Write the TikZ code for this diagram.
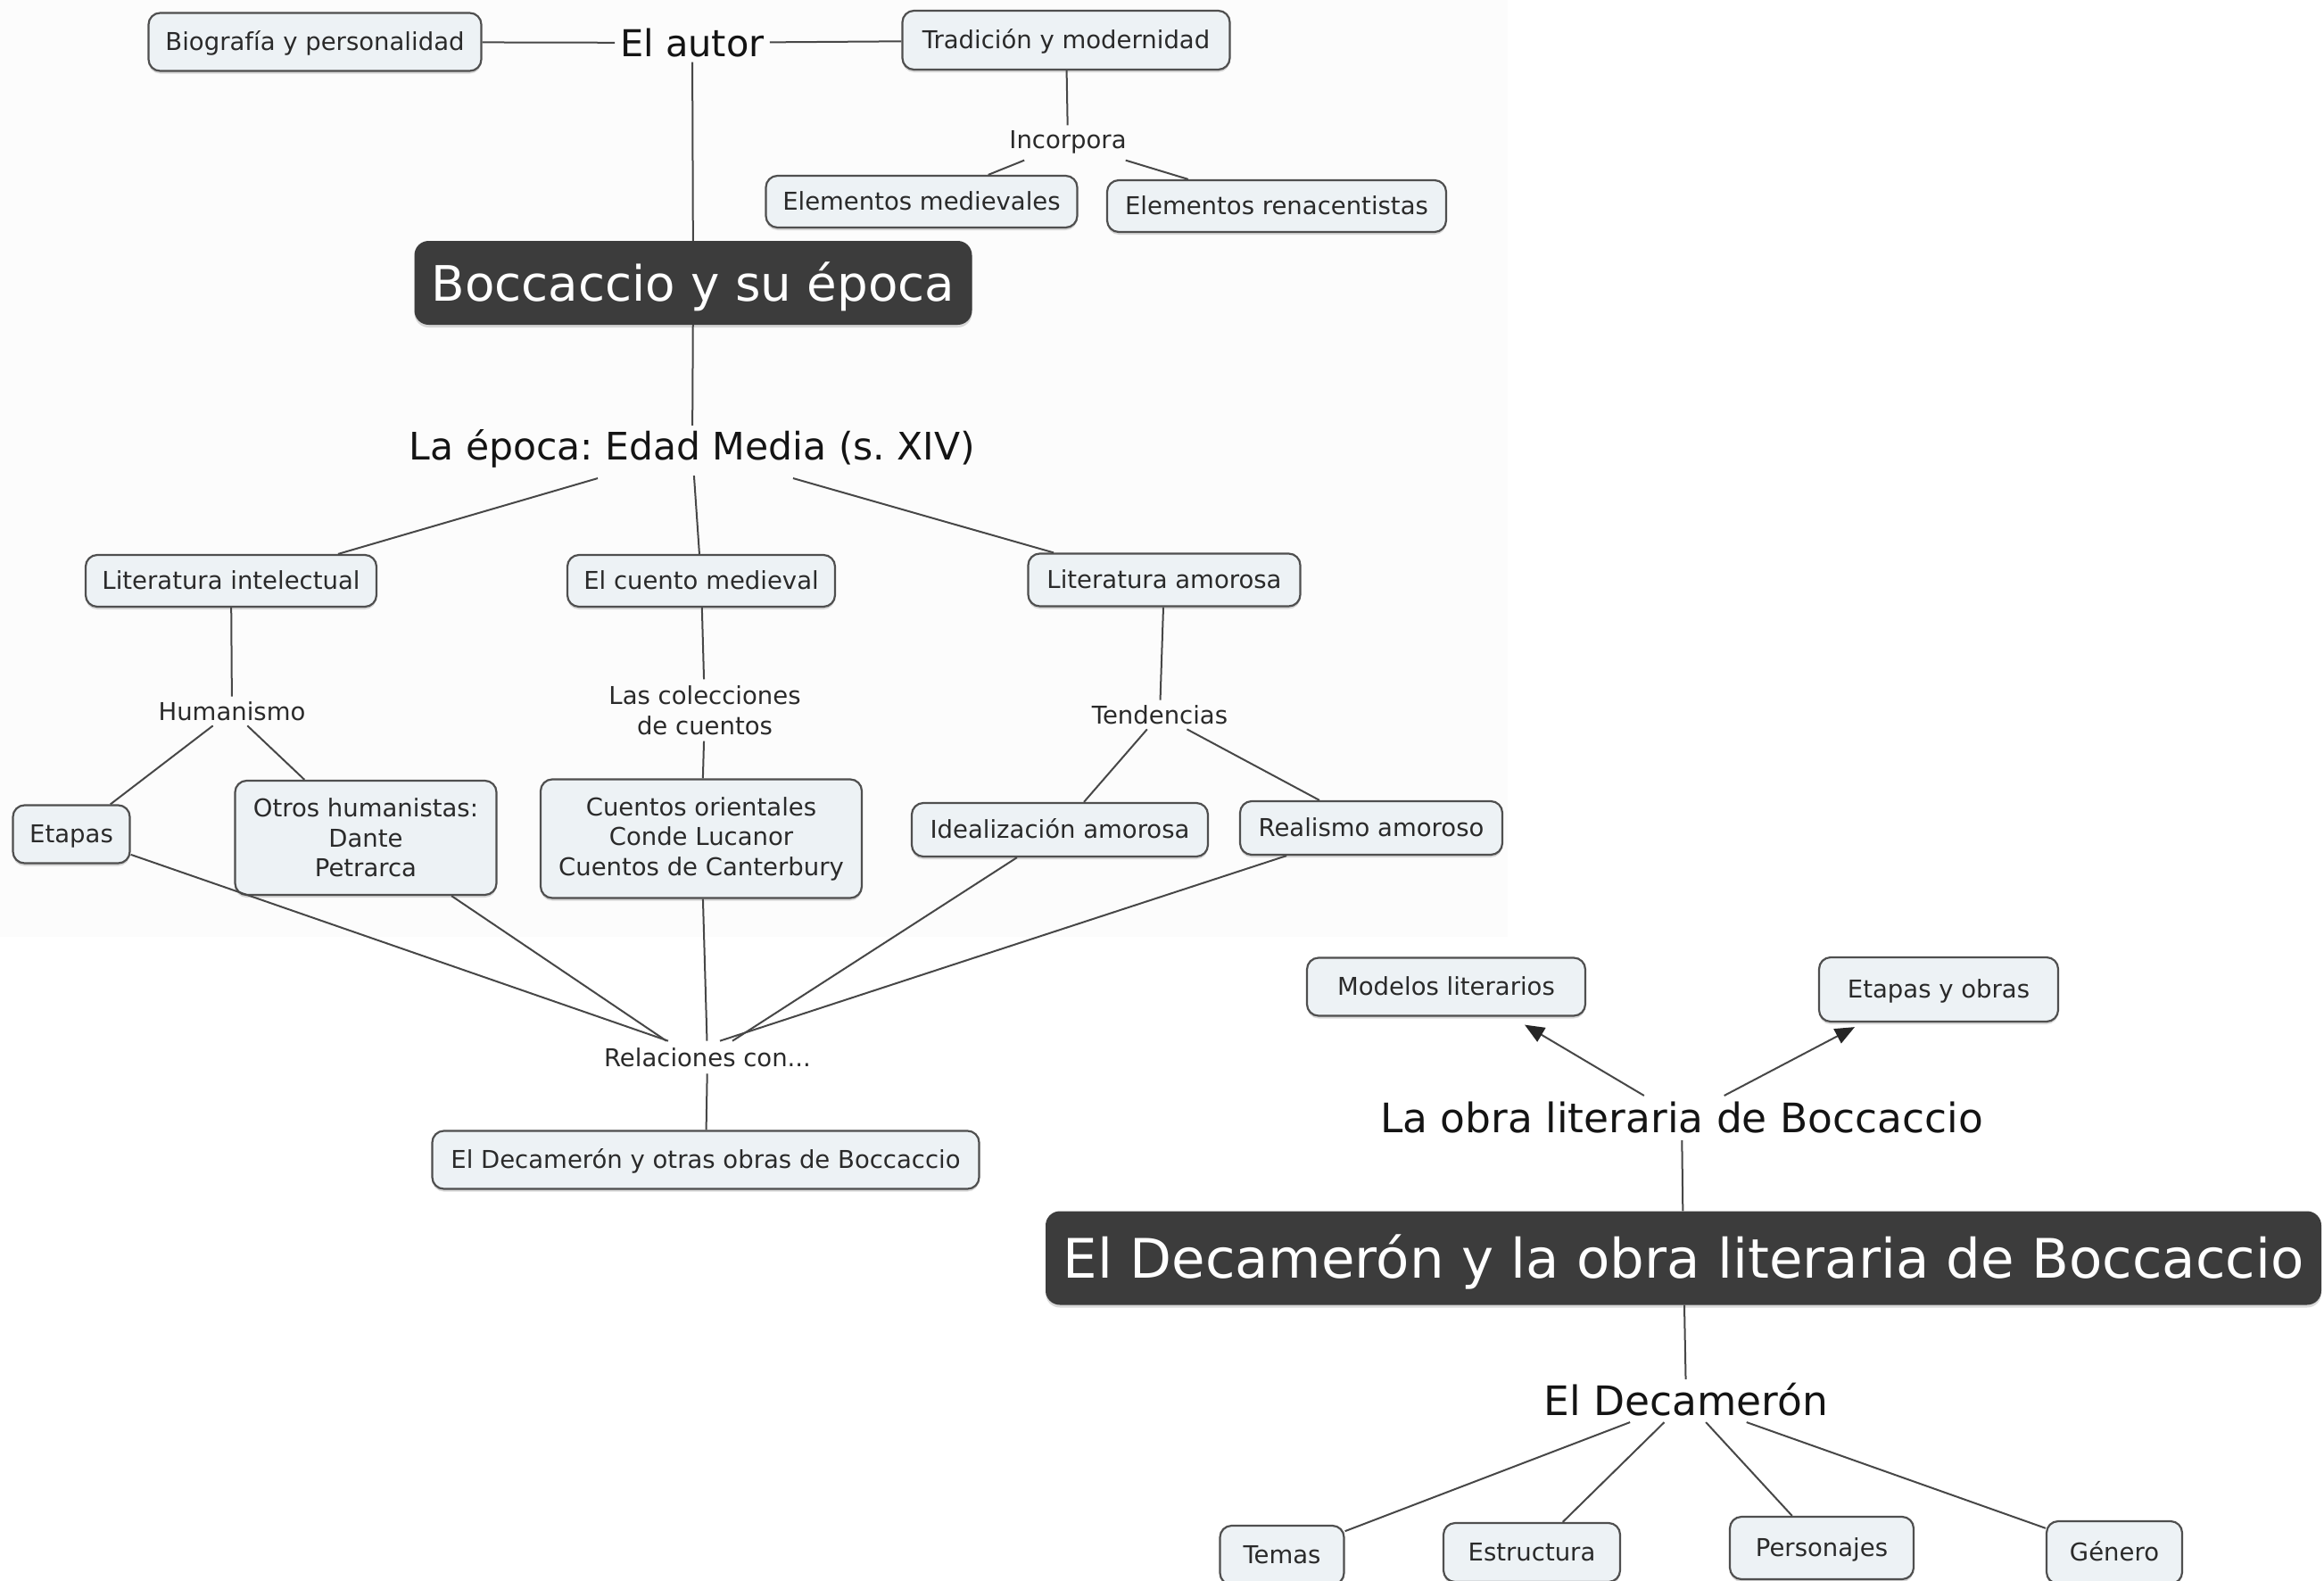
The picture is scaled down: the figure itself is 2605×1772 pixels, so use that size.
\documentclass[tikz,border=0pt]{standalone}
\usepackage{fontspec}
\setmainfont{DejaVu Sans}
\usetikzlibrary{arrows.meta,shadows}
\definecolor{boxfill}{HTML}{EDF2F5}
\definecolor{boxline}{HTML}{4F4F4F}
\definecolor{connc}{HTML}{474747}
\definecolor{darkfill}{HTML}{3C3C3C}
\definecolor{txt}{HTML}{2A2A2A}
\frenchspacing
\begin{document}
\begin{tikzpicture}[x=1pt,y=-1pt,
  sfont/.style={font=\fontsize{27.5}{33.5}\selectfont},
  shad/.style={drop shadow={shadow xshift=0pt,shadow yshift=-3pt,opacity=.3}},
  box/.style={draw=boxline,line width=2.2pt,fill=boxfill,rounded corners=13pt,
    text=txt,sfont,inner sep=0pt,text height=20.3pt,text depth=0.6pt,shad},
  mbox/.style={draw=boxline,line width=2.2pt,fill=boxfill,rounded corners=13pt,
    text=txt,sfont,inner sep=0pt,align=center,shad},
  dark/.style={fill=darkfill,rounded corners=16pt,text=white,inner sep=0pt,shad},
  lbl/.style={text=txt,sfont,inner sep=6pt,text height=20.3pt,text depth=6.6pt},
  big/.style={text=black!92,inner sep=7pt},
  conn/.style={draw=connc,line width=2pt},
  arr/.style={conn,-{Triangle[width=18pt,length=22pt,color=black!85]}}
]
\useasboundingbox (0,0) rectangle (2605,1772);
\fill[black!1.2] (0,0) rectangle (1690,1050);

% ---------- upper map ----------
\node[box,minimum width=373,minimum height=65] (bio) at (353,47) {Biografía y personalidad};
\node[big,font=\fontsize{41.5}{48}\selectfont,text height=30.7pt,text depth=0pt,inner sep=6pt] (autor) at (776,48) {El autor};
\node[box,minimum width=367,minimum height=66] (trad) at (1195,45) {Tradición y modernidad};
\node[lbl] (incorpora) at (1197,160) {Incorpora};
\node[box,minimum width=349,minimum height=58] (elmed) at (1033,226) {Elementos medievales};
\node[box,minimum width=380,minimum height=58] (elren) at (1431,231) {Elementos renacentistas};
\node[dark,minimum width=625,minimum height=94,font=\fontsize{54.7}{60}\selectfont,text height=40.5pt,text depth=0.5pt] (bocc) at (777,317) {Boccaccio y su época};
\node[big,font=\fontsize{42.5}{48}\selectfont,text height=31.5pt,text depth=10.2pt] (epoca) at (776,505) {La época: Edad Media (s. XIV)};

\node[box,minimum width=326,minimum height=58] (litint) at (259,651) {Literatura intelectual};
\node[box,minimum width=300,minimum height=58] (cuento) at (786,651) {El cuento medieval};
\node[box,minimum width=305,minimum height=59] (litam) at (1305,650) {Literatura amorosa};

\node[lbl,text depth=0pt] (humanismo) at (260,797) {Humanismo};
\node[text=txt,sfont,inner sep=7pt,align=center] (colecciones) at (790,796) {Las colecciones\\de cuentos};
\node[lbl,text depth=0pt] (tendencias) at (1300,801) {Tendencias};

\node[box,minimum width=131,minimum height=65] (etapas) at (80,935) {Etapas};
\node[mbox,minimum width=293,minimum height=128] (otros) at (410,939) {Otros humanistas:\\Dante\\Petrarca};
\node[mbox,minimum width=360,minimum height=133] (cuentos) at (786,940) {Cuentos orientales\\Conde Lucanor\\Cuentos de Canterbury};
\node[box,minimum width=332,minimum height=60] (ideal) at (1188,930) {Idealización amorosa};
\node[box,minimum width=294,minimum height=60] (realismo) at (1537,928) {Realismo amoroso};

\node[lbl,text depth=0pt,inner sep=8pt] (relaciones) at (793,1185) {Relaciones con...};
\node[box,minimum width=613,minimum height=65] (decotras) at (791,1300) {El Decamerón y otras obras de Boccaccio};

% ---------- lower map ----------
\node[box,minimum width=312,minimum height=65] (modelos) at (1621,1106) {Modelos literarios};
\node[box,minimum width=268,minimum height=72] (etobras) at (2173,1109) {Etapas y obras};
\node[big,font=\fontsize{45.5}{52}\selectfont,text height=33.7pt,text depth=0pt,inner sep=8pt] (obra) at (1885,1253) {La obra literaria de Boccaccio};
\node[dark,minimum width=1430,minimum height=105,font=\fontsize{61}{68}\selectfont,text height=45.1pt,text depth=1pt] (decbig) at (1887,1410) {El Decamerón y la obra literaria de Boccaccio};
\node[big,font=\fontsize{45.5}{52}\selectfont,text height=33.7pt,text depth=0pt,inner sep=7pt] (decameron) at (1890,1570) {El Decamerón};

\node[box,minimum width=139,minimum height=66] (temas) at (1437,1743) {Temas};
\node[box,minimum width=198,minimum height=66] (estructura) at (1717,1740) {Estructura};
\node[box,minimum width=206,minimum height=70] (personajes) at (2042,1735) {Personajes};
\node[box,minimum width=152,minimum height=70] (genero) at (2370,1740) {Género};

% ---------- connectors ----------
\draw[conn] (bio) -- (autor);
\draw[conn] (autor) -- (trad);
\draw[conn] (autor) -- (bocc);
\draw[conn] (trad) -- (incorpora);
\draw[conn] (incorpora) -- (elmed);
\draw[conn] (incorpora) -- (elren);
\draw[conn] (bocc) -- (epoca);
\draw[conn] ([xshift=-106pt,yshift=-3pt]epoca.south) -- ([xshift=120pt]litint.north);
\draw[conn] (epoca) -- (cuento);
\draw[conn] ([xshift=113pt,yshift=-3pt]epoca.south) -- ([xshift=-124pt]litam.north);
\draw[conn] (litint) -- (humanismo);
\draw[conn] (humanismo) -- (etapas);
\draw[conn] (humanismo) -- (otros);
\draw[conn] (cuento) -- (colecciones);
\draw[conn] (colecciones) -- (cuentos);
\draw[conn] (litam) -- (tendencias);
\draw[conn] (tendencias) -- (ideal);
\draw[conn] (tendencias) -- (realismo);
\draw[conn] (etapas) -- ([xshift=-44pt]relaciones.north);
\draw[conn] (otros) -- ([xshift=-46pt]relaciones.north);
\draw[conn] (cuentos) -- (relaciones);
\draw[conn] (ideal) -- ([xshift=28pt]relaciones.north);
\draw[conn] (realismo) -- ([xshift=14pt]relaciones.north);
\draw[conn] (relaciones) -- (decotras);

\draw[arr] (obra) -- ([xshift=88pt,yshift=-9pt]modelos.south);
\draw[arr] (obra) -- ([xshift=-94pt,yshift=-5pt]etobras.south);
\draw[conn] (obra) -- (decbig);
\draw[conn] (decbig) -- (decameron);
\draw[conn] (decameron) -- (temas);
\draw[conn] (decameron) -- (estructura);
\draw[conn] (decameron) -- (personajes);
\draw[conn] (decameron) -- (genero);
\end{tikzpicture}
\end{document}
